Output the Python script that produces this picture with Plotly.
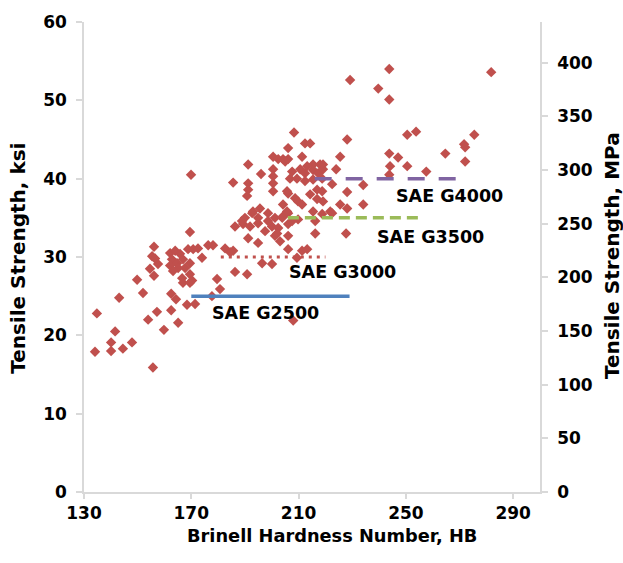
import plotly.graph_objects as go

# Brinell hardness (HB) and tensile strength (ksi)
hardness = [
    134.1, 134.8, 140.1, 140.1, 141.6, 143.1, 144.5, 147.9, 152.0, 153.9, 155.7, 157.2, 159.8,
    162.5, 162.5, 164.3, 165.1, 168.4, 171.4,
    149.8, 154.6, 155.4, 156.1, 156.1, 157.6, 156.5,
    162.1, 164.0, 165.8, 162.8, 164.7, 166.9, 162.1, 165.1, 167.7, 169.5, 168.8, 170.7,
    169.5, 166.6, 166.9, 170.3, 163.2, 169.5, 169.5,
    172.5, 176.3, 178.1, 182.6, 174.0, 179.6, 180.7, 177.7, 185.6, 184.5,
    186.3, 190.8, 196.4, 200.1, 186.3, 189.3, 191.9, 191.2, 194.9, 188.9, 192.7, 194.9,
    193.0, 195.6, 190.0,
    197.5, 200.1, 201.2, 203.1, 202.4, 206.1, 206.1, 207.6, 209.8, 216.2, 216.2, 206.1,
    211.3, 198.6, 201.2, 204.2, 206.1, 198.6, 194.9, 202.0, 213.2, 209.4,
    191.2, 169.9, 185.6, 191.2, 191.2, 190.8, 196.0, 200.5, 200.5, 200.5, 200.5, 200.5,
    202.4, 205.0,
    208.3, 212.4, 214.3, 206.1, 211.3, 215.4, 218.0, 219.1, 207.6, 206.8, 210.6, 212.4,
    215.4, 217.3, 219.1, 212.4, 215.4, 218.8, 206.1, 208.7, 209.8, 211.3, 214.3, 216.9,
    218.8, 216.9, 219.1, 204.2, 205.7, 215.4, 218.8, 221.8, 204.2, 206.1, 209.4, 205.7,
    203.9, 213.2,
    224.0, 225.5, 228.1, 229.2, 243.8, 239.7, 243.8, 281.8, 250.5, 253.8, 275.5, 243.8,
    247.1, 264.7, 271.7, 272.1, 272.1, 250.5, 257.6, 244.1, 243.8, 234.1, 228.1, 222.5,
    225.5, 228.1, 234.1, 222.5, 227.7, 208.0,
]
tensile_ksi = [
    17.9, 22.8, 18.0, 19.1, 20.5, 24.8, 18.3, 19.1, 25.4, 22.0, 15.9, 23.0, 20.7,
    25.3, 23.2, 24.6, 21.6, 23.9, 24.0,
    27.1, 28.5, 30.1, 31.3, 27.6, 29.1, 29.8,
    30.5, 30.8, 30.4, 29.7, 29.2, 29.7, 28.9, 28.6, 28.6, 29.2, 31.0, 31.0,
    27.8, 27.3, 26.7, 27.0, 28.2, 26.7, 33.2,
    31.1, 31.5, 31.5, 31.1, 29.9, 27.2, 25.9, 25.0, 30.8, 30.6,
    28.1, 27.8, 29.2, 29.1, 33.9, 34.2, 33.9, 32.4, 31.8, 34.6, 35.6, 35.0,
    35.8, 36.2, 35.0,
    33.3, 33.9, 32.7, 32.0, 33.7, 32.7, 34.2, 34.6, 34.8, 34.6, 33.0, 31.0,
    30.8, 35.6, 35.0, 35.2, 35.6, 34.6, 34.3, 33.0, 31.0, 29.9,
    41.8, 40.5, 39.5, 39.4, 38.6, 37.8, 40.6, 41.2, 40.3, 39.4, 38.4, 42.8,
    42.5, 42.2,
    45.9, 44.5, 44.5, 43.9, 42.8, 41.8, 41.8, 41.8, 40.9, 40.0, 41.2, 40.7,
    41.1, 40.7, 41.2, 39.7, 39.9, 40.0, 38.1, 37.5, 37.1, 36.7, 38.0, 38.6,
    38.4, 37.4, 37.1, 36.7, 35.8, 35.8, 35.5, 35.8, 42.5, 42.5, 40.0, 38.4,
    35.0, 41.6,
    41.2, 42.8, 45.0, 52.6, 54.0, 51.5, 50.1, 53.6, 45.6, 46.0, 45.6, 43.2,
    42.7, 43.2, 44.4, 44.0, 42.2, 41.6, 40.9, 41.6, 40.5, 39.2, 38.3, 39.3,
    36.7, 36.2, 36.7, 35.6, 33.0, 21.9,
]

# Minimum-strength grades (name, HB start, HB end, ksi)
grade_names = ["SAE G2500", "SAE G3000", "SAE G3500", "SAE G4000"]
grade_hb_start = [170, 181, 206, 216]
grade_hb_end = [229, 220, 255, 269]
grade_ksi = [25, 30, 35, 40]
grade_label_hb = [197.5, 226.2, 259.1, 266.1]
grade_label_ksi = [22.9, 28.1, 32.5, 37.8]

x_ticks = [130, 170, 210, 250, 290]
ksi_ticks = [0, 10, 20, 30, 40, 50, 60]
mpa_ticks = [0, 50, 100, 150, 200, 250, 300, 350, 400]

grade_colors = ["#4F81BD", "#C0504D", "#9BBB59", "#8064A2"]
grade_dash = ["solid", "3px,5px", "11px,6px", "17px,14px"]
grade_width = [3.5, 3, 3.5, 3.5]

FONT = "DejaVu Sans"
FS = 17

fig = go.Figure()
fig.add_trace(go.Scatter(
    x=hardness, y=tensile_ksi, mode="markers",
    marker=dict(symbol="diamond", size=8, color="#C0504D", line=dict(width=0)),
    showlegend=False, hoverinfo="skip",
))
for i in range(len(grade_names)):
    fig.add_trace(go.Scatter(
        x=[grade_hb_start[i], grade_hb_end[i]], y=[grade_ksi[i], grade_ksi[i]],
        mode="lines", line=dict(color=grade_colors[i], width=grade_width[i], dash=grade_dash[i]),
        showlegend=False, hoverinfo="skip",
    ))
    fig.add_annotation(
        x=grade_label_hb[i], y=grade_label_ksi[i], xref="x", yref="y",
        text=grade_names[i], showarrow=False, xanchor="center", yanchor="middle",
        font=dict(family=FONT, size=17.5, color="black", weight="bold"),
    )
# empty trace bound to the secondary (MPa) axis
fig.add_trace(go.Scatter(x=[None], y=[None], yaxis="y2", showlegend=False, hoverinfo="skip"))

axis_common = dict(
    showline=True, linecolor="#D9D9D9", linewidth=1.5, mirror=False,
    ticks="outside", tickcolor="#D9D9D9", tickwidth=1.5,
    showgrid=False, zeroline=False,
    tickfont=dict(family=FONT, size=FS, color="black", weight="bold"),
)
fig.update_layout(
    width=623, height=563,
    margin=dict(l=84, r=83, t=20, b=71),
    paper_bgcolor="white", plot_bgcolor="white",
    xaxis=dict(range=[130, 300], tickvals=x_ticks, ticklen=5, **axis_common),
    yaxis=dict(range=[0, 60], tickvals=ksi_ticks, ticklen=6, ticklabelstandoff=6, **axis_common),
    yaxis2=dict(range=[0, 438], tickvals=mpa_ticks, overlaying="y", side="right",
                ticklen=6, ticklabelstandoff=6, **axis_common),
)
fig.add_annotation(x=0.544, y=-0.092, xref="paper", yref="paper", text="Brinell Hardness Number, HB",
                   xanchor="center", yanchor="middle", showarrow=False,
                   font=dict(family=FONT, size=17.8, color="black", weight="bold"))
fig.add_annotation(x=-0.145, y=0.498, xref="paper", yref="paper", text="Tensile Strength, ksi",
                   xanchor="center", yanchor="middle", textangle=-90, showarrow=False,
                   font=dict(family=FONT, size=20, color="black", weight="bold"))
fig.add_annotation(x=1.158, y=0.502, xref="paper", yref="paper", text="Tensile Strength, MPa",
                   xanchor="center", yanchor="middle", textangle=-90, showarrow=False,
                   font=dict(family=FONT, size=20, color="black", weight="bold"))

fig.write_html("out.html")
